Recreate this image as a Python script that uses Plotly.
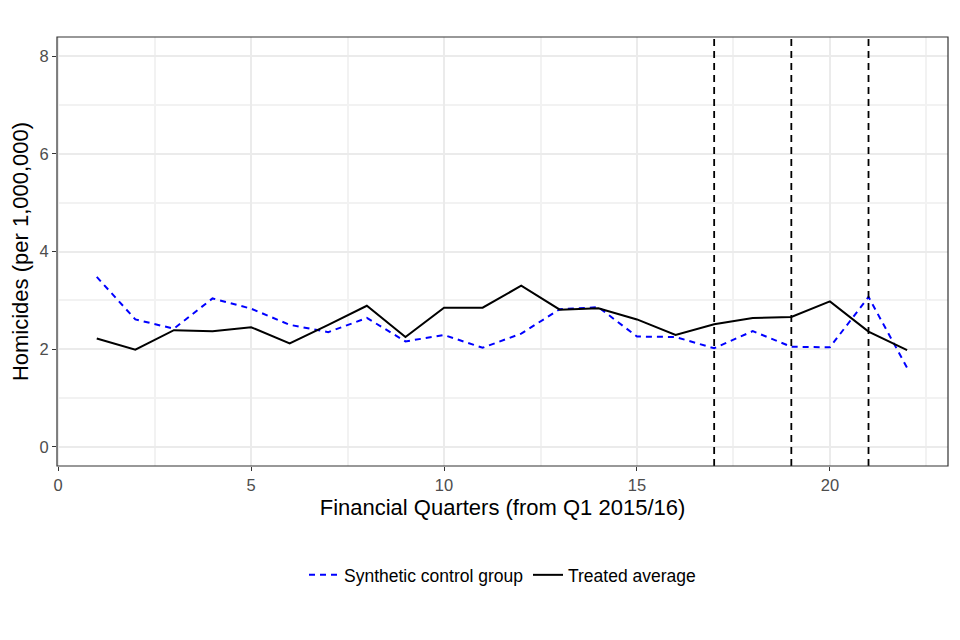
import plotly.graph_objects as go

quarters = list(range(1, 23))
synthetic_control = [3.48, 2.61, 2.42, 3.04, 2.83, 2.50, 2.35, 2.64, 2.16, 2.29, 2.03,
                     2.32, 2.82, 2.86, 2.26, 2.25, 2.02, 2.37, 2.05, 2.04, 3.07, 1.62]
treated_average = [2.22, 1.99, 2.39, 2.37, 2.45, 2.12, 2.50, 2.89, 2.25, 2.85, 2.85,
                   3.30, 2.81, 2.84, 2.61, 2.29, 2.51, 2.64, 2.66, 2.98, 2.36, 1.98]
intervention_quarters = [17, 19, 21]
x_ticks = [0, 5, 10, 15, 20]
y_ticks = [0, 2, 4, 6, 8]

FONT = "Liberation Sans, Arial, sans-serif"

fig = go.Figure()
fig.add_trace(go.Scatter(
    x=quarters, y=synthetic_control, mode="lines", name="Synthetic control group",
    line=dict(color="#0000FF", width=2, dash="6px,5px")))
fig.add_trace(go.Scatter(
    x=quarters, y=treated_average, mode="lines", name="Treated average",
    line=dict(color="#000000", width=2)))

for q in intervention_quarters:
    fig.add_vline(x=q, line=dict(color="#000000", width=1.8, dash="7px,5px"), layer="above")

fig.add_shape(type="rect", xref="paper", yref="paper", x0=0, x1=1, y0=0, y1=1,
              line=dict(color="#333333", width=1.2), layer="above")

fig.update_layout(
    width=952, height=632,
    margin=dict(l=49, r=12, t=29, b=174, autoexpand=False),
    paper_bgcolor="white", plot_bgcolor="white",
    font=dict(family=FONT, color="#000000"),
    showlegend=True,
    legend=dict(orientation="h", x=0.5, xanchor="center", y=-0.254, yanchor="middle",
                font=dict(size=17.5, color="#000000"), itemwidth=30,
                bgcolor="rgba(0,0,0,0)"),
)
fig.update_xaxes(
    range=[-0.03, 23.06], tickvals=x_ticks, ticktext=[str(v) for v in x_ticks],
    automargin=False,
    showgrid=True, gridcolor="#EBEBEB", gridwidth=2, zeroline=False, showline=False,
    ticks="outside", ticklen=4, tickcolor="#333333", tickwidth=1.2,
    tickfont=dict(size=16.5, color="#4D4D4D"),
    minor=dict(tickvals=[2.5, 7.5, 12.5, 17.5, 22.5], showgrid=True,
               gridcolor="#F2F2F2", gridwidth=1.6, ticks=""),
    title=dict(text="Financial Quarters (from Q1 2015/16)", font=dict(size=22, color="#000000"),
               standoff=6),
)
fig.update_yaxes(
    range=[-0.39, 8.39], tickvals=y_ticks, ticktext=[str(v) for v in y_ticks],
    automargin=False,
    showgrid=True, gridcolor="#EBEBEB", gridwidth=2, zeroline=False, showline=False,
    ticks="outside", ticklen=4, tickcolor="#333333", tickwidth=1.2,
    tickfont=dict(size=16.5, color="#4D4D4D"),
    minor=dict(tickvals=[1, 3, 5, 7], showgrid=True,
               gridcolor="#F2F2F2", gridwidth=1.6, ticks=""),
    title=dict(text="Homicides (per 1,000,000)", font=dict(size=22, color="#000000"),
               standoff=17),
)

fig.write_html("out.html")
